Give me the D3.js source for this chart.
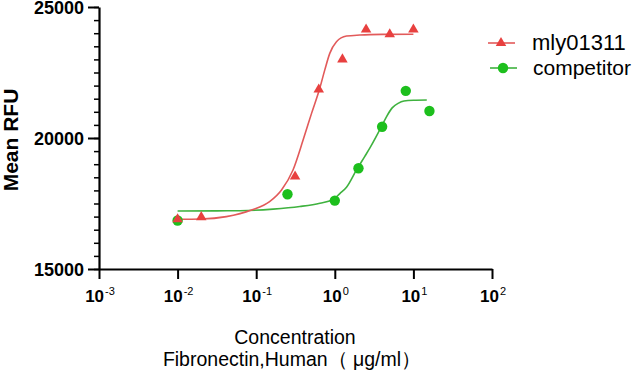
<!DOCTYPE html>
<html>
<head>
<meta charset="utf-8">
<script src="https://cdn.jsdelivr.net/npm/d3@7"></script>
<style>
  body { margin: 0; background: #fff; }
  text { font-family: Arial, "Liberation Sans", sans-serif; }
</style>
</head>
<body>
<div id="container"></div>
<script>
// measured points
let redName = "mly01311";
let redConc = [0.01, 0.02, 0.3125, 0.625, 1.25, 2.5, 5, 10];
let redRFU = [16900, 16980, 18530, 21850, 23000, 24140, 23960, 24140];

let greenName = "competitor";
let greenConc = [0.01, 0.25, 1, 2, 4, 8, 16];
let greenRFU = [16850, 17855, 17610, 18845, 20430, 21800, 21030];

// fitted curves
let redFitConc = [0.01, 0.02, 0.0417, 0.0871, 0.148, 0.21, 0.294, 0.395, 0.506, 0.644, 0.746, 0.863, 1.05, 1.41, 2.08, 4.0, 10];
let redFitRFU = [16900, 16910, 17000, 17250, 17570, 18015, 18780, 19920, 20940, 21900, 22600, 23230, 23675, 23890, 23930, 23955, 23960];

let greenFitConc = [0.01, 0.0316, 0.0619, 0.164, 0.359, 0.646, 0.97, 1.159, 1.409, 1.888, 2.399, 2.786, 3.917, 4.539, 5.37, 6.383, 7.586, 10, 14.8];
let greenFitRFU = [17215, 17220, 17225, 17285, 17385, 17510, 17665, 17880, 18120, 18780, 19290, 19610, 20430, 20810, 21150, 21320, 21410, 21440, 21450];

let xTicks = [-3, -2, -1, 0, 1, 2];
let yTicks = [15000, 20000, 25000];
let yMinorTicks = d3.range(15000, 25001, 500);

let w = 636;
let h = 375;

let redColor = "#e8403f";
let redLine = "#e25a5a";
let greenColor = "#1dbf1d";
let greenLine = "#3fb23f";

let viz = d3.select("#container")
  .append("svg")
    .attr("width", w)
    .attr("height", h)
;

let xScale = d3.scaleLog().domain([1e-3, 1e2]).range([99, 492]);
let yScale = d3.scaleLinear().domain([15000, 25000]).range([269, 7]);

// y axis
let yMinor = d3.axisLeft(yScale).tickValues(yMinorTicks).tickSize(5).tickSizeOuter(0).tickFormat("");
let yMinorGroup = viz.append("g").attr("class", "yminor")
  .attr("transform", "translate(99,0)")
  .call(yMinor)
;
yMinorGroup.select(".domain").remove();
yMinorGroup.selectAll("line").attr("stroke", "#000").attr("stroke-width", 1.5);

let yAxis = d3.axisLeft(yScale).tickValues(yTicks).tickSize(11).tickSizeOuter(0).tickPadding(4).tickFormat(d3.format("d"));
let yAxisGroup = viz.append("g").attr("class", "yaxis")
  .attr("transform", "translate(99,0)")
  .call(yAxis)
;
yAxisGroup.selectAll("text")
  .attr("font-size", 18)
  .attr("font-weight", "bold")
  .attr("fill", "#000")
  .attr("dy", "0.38em")
  .style("font-family", "Arial, 'Liberation Sans', sans-serif")
;

// x axis
let xAxis = d3.axisBottom(xScale)
  .tickValues(xTicks.map(function(d){ return Math.pow(10, d); }))
  .tickSize(10)
  .tickSizeOuter(0)
  .tickFormat("")
;
let xAxisGroup = viz.append("g").attr("class", "xaxis")
  .attr("transform", "translate(0,269)")
  .call(xAxis)
;

viz.selectAll(".xaxis line, .yaxis line").attr("stroke", "#000").attr("stroke-width", 2);
viz.selectAll(".domain").attr("stroke", "#000").attr("stroke-width", 2.2);

let xLabels = viz.append("g").attr("class", "xlabels")
  .selectAll("text")
  .data(xTicks)
  .enter()
  .append("text")
    .attr("x", function(d,i){ return xScale(Math.pow(10, d)) + 1; })
    .attr("y", 302)
    .attr("text-anchor", "middle")
    .attr("font-size", 17)
    .attr("font-weight", "bold")
    .attr("fill", "#000")
;
xLabels.append("tspan").text("10");
xLabels.append("tspan")
  .attr("font-size", 11)
  .attr("font-weight", "normal")
  .attr("dx", 1)
  .attr("dy", -7)
  .text(function(d,i){ return d; })
;

// axis titles
viz.append("text")
  .attr("transform", "translate(18,140) rotate(-90)")
  .attr("text-anchor", "middle")
  .attr("font-size", 21)
  .attr("font-weight", "bold")
  .text("Mean RFU")
;

viz.append("text")
  .attr("x", 295)
  .attr("y", 343.5)
  .attr("text-anchor", "middle")
  .attr("font-size", 19.5)
  .text("Concentration")
;
viz.append("text")
  .attr("x", 292)
  .attr("y", 365.5)
  .attr("text-anchor", "middle")
  .attr("font-size", 19.5)
  .text("Fibronectin,Human\uFF08 \u03BCg/ml\uFF09")
;

// curves
let curveLine = d3.line()
  .x(function(d,i){ return xScale(d[0]); })
  .y(function(d,i){ return yScale(d[1]); })
  .curve(d3.curveMonotoneX)
;

let greenFit = d3.zip(greenFitConc, greenFitRFU);
let redFit = d3.zip(redFitConc, redFitRFU);

viz.append("path")
  .attr("d", curveLine(greenFit))
  .attr("fill", "none")
  .attr("stroke", greenLine)
  .attr("stroke-width", 1.6)
;

viz.append("path")
  .attr("d", curveLine(redFit))
  .attr("fill", "none")
  .attr("stroke", redLine)
  .attr("stroke-width", 1.6)
;

// points
let greenData = d3.zip(greenConc, greenRFU);
let redData = d3.zip(redConc, redRFU);

viz.append("g").selectAll("circle")
  .data(greenData)
  .enter()
  .append("circle")
    .attr("cx", function(d,i){ return xScale(d[0]); })
    .attr("cy", function(d,i){ return yScale(d[1]); })
    .attr("r", 5.2)
    .attr("fill", greenColor)
;

let triangle = d3.symbol().type(d3.symbolTriangle).size(48);

viz.append("g").selectAll("path")
  .data(redData)
  .enter()
  .append("path")
    .attr("d", triangle)
    .attr("transform", function(d,i){ return "translate(" + xScale(d[0]) + "," + yScale(d[1]) + ")"; })
    .attr("fill", redColor)
;

// legend
let legend = viz.append("g").attr("class", "legend");

legend.append("line")
  .attr("x1", 488).attr("x2", 515).attr("y1", 43).attr("y2", 43)
  .attr("stroke", redLine).attr("stroke-width", 1.6)
;
legend.append("path")
  .attr("d", triangle)
  .attr("transform", "translate(501,43)")
  .attr("fill", redColor)
;
legend.append("text")
  .attr("x", 532).attr("y", 50)
  .attr("font-size", 22)
  .text(redName)
;

legend.append("line")
  .attr("x1", 490).attr("x2", 517).attr("y1", 68).attr("y2", 68)
  .attr("stroke", greenLine).attr("stroke-width", 1.6)
;
legend.append("circle")
  .attr("cx", 503).attr("cy", 68).attr("r", 5.2)
  .attr("fill", greenColor)
;
legend.append("text")
  .attr("x", 533).attr("y", 75)
  .attr("font-size", 21)
  .text(greenName)
;
</script>
</body>
</html>
